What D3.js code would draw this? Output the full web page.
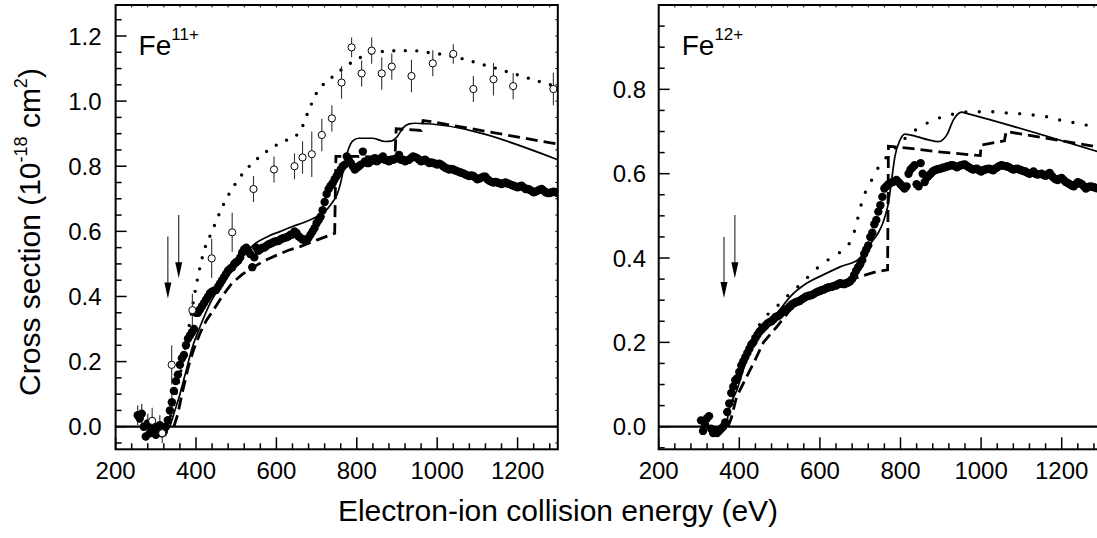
<!DOCTYPE html>
<html><head><meta charset="utf-8">
<script src="https://cdn.jsdelivr.net/npm/d3@7"></script>
<style>
html,body{margin:0;padding:0;background:#fff;}
svg{display:block;font-family:"Liberation Sans",Arial,Helvetica,sans-serif;}
</style></head>
<body>
<svg id="chart" width="1097" height="538"></svg>
<script>
// ---------------- DATA ----------------
const xTicksMajor = [200, 400, 600, 800, 1000, 1200];
const yTicksLeft = [0.0, 0.2, 0.4, 0.6, 0.8, 1.0, 1.2];
const yTicksRight = [0.0, 0.2, 0.4, 0.6, 0.8];
const panelLabels = ["11+", "12+"];

// Fe11+ present measurement (filled circles): [energy eV, cross section]
const fe11Filled = [[255,0.035],[260,0.025],[265,0.04],[270,0.0],[275,-0.03],[280,0.01],[285,-0.02],[290,-0.01],[295,0.0],[300,-0.025],[305,-0.01],[310,0.005],[315,-0.02],[320,-0.015],[325,0.0],[330,0.02],[335,0.05],[340,0.075],[345,0.11],[350,0.14],[355,0.16],[360,0.19],[365,0.21],[370,0.22],[375,0.25],[380,0.27],[385,0.28],[390,0.29],[395,0.30],[400,0.35],[405,0.35],[410,0.36],[415,0.37],[420,0.38],[425,0.39],[430,0.40],[435,0.41],[440,0.415],[445,0.418],[450,0.42],[455,0.43],[460,0.44],[465,0.45],[470,0.46],[475,0.47],[480,0.48],[485,0.485],[490,0.49],[495,0.50],[500,0.505],[505,0.51],[510,0.52],[515,0.535],[520,0.545],[525,0.55],[530,0.54],[535,0.53],[540,0.49],[545,0.52],[550,0.55],[555,0.54],[560,0.545],[565,0.55],[570,0.55],[575,0.555],[580,0.56],[585,0.562],[590,0.565],[595,0.568],[600,0.57],[605,0.57],[610,0.575],[615,0.578],[620,0.58],[625,0.582],[630,0.585],[635,0.59],[640,0.59],[645,0.60],[650,0.595],[655,0.585],[660,0.58],[665,0.575],[670,0.575],[675,0.572],[680,0.58],[685,0.59],[690,0.60],[695,0.61],[700,0.625],[705,0.635],[710,0.645],[715,0.665],[720,0.69],[725,0.715],[730,0.73],[735,0.74],[740,0.748],[745,0.76],[750,0.77],[755,0.78],[760,0.79],[765,0.80],[770,0.805],[775,0.83],[780,0.82],[785,0.81],[790,0.80],[795,0.79],[800,0.795],[805,0.80],[810,0.805],[815,0.845],[820,0.815],[825,0.81],[830,0.81],[835,0.815],[840,0.82],[845,0.825],[850,0.815],[855,0.82],[860,0.825],[865,0.83],[870,0.82],[875,0.818],[880,0.815],[885,0.82],[890,0.82],[895,0.822],[900,0.825],[905,0.835],[910,0.82],[915,0.82],[920,0.815],[925,0.818],[930,0.82],[935,0.825],[940,0.83],[945,0.828],[950,0.825],[955,0.82],[960,0.815],[965,0.818],[970,0.82],[975,0.815],[980,0.81],[985,0.812],[990,0.81],[995,0.808],[1000,0.805],[1005,0.808],[1010,0.805],[1015,0.80],[1020,0.795],[1025,0.793],[1030,0.79],[1035,0.792],[1040,0.79],[1045,0.787],[1050,0.785],[1055,0.782],[1060,0.78],[1065,0.778],[1070,0.775],[1075,0.772],[1080,0.77],[1085,0.772],[1090,0.77],[1095,0.765],[1100,0.76],[1105,0.762],[1110,0.765],[1115,0.768],[1120,0.768],[1125,0.76],[1130,0.755],[1135,0.752],[1140,0.75],[1145,0.752],[1150,0.75],[1155,0.748],[1160,0.745],[1165,0.748],[1170,0.75],[1175,0.747],[1180,0.745],[1185,0.742],[1190,0.74],[1195,0.738],[1200,0.735],[1205,0.738],[1210,0.74],[1215,0.735],[1220,0.73],[1225,0.73],[1230,0.728],[1235,0.724],[1240,0.72],[1245,0.722],[1250,0.725],[1255,0.728],[1260,0.73],[1265,0.725],[1270,0.72],[1275,0.718],[1280,0.718],[1285,0.72],[1290,0.722],[1295,0.72],[1300,0.718]];
// error bars of the filled points below threshold: [energy, value, error]
const fe11FilledErr = [[255,0.035,0.03],[265,0.04,0.03],[280,0.01,0.03],[295,0.0,0.03],[310,0.005,0.03],[325,0.0,0.03],[340,0.075,0.03]];

// Fe11+ earlier measurement (open circles): [energy, value, error]
const fe11Open = [[291,0.018,0.04],[316,-0.02,0.03],[339.5,0.19,0.06],[391,0.358,0.05],[439,0.517,0.06],[490,0.597,0.06],[543,0.73,0.04],[594,0.79,0.04],[645,0.80,0.04],[665,0.827,0.05],[688,0.837,0.07],[713,0.896,0.05],[738,0.947,0.04],[762,1.057,0.05],[787,1.165,0.03],[812,1.085,0.04],[837,1.155,0.04],[862,1.085,0.05],[887,1.106,0.04],[936,1.077,0.05],[989,1.116,0.04],[1040,1.145,0.03],[1090,1.037,0.04],[1140,1.067,0.05],[1189,1.046,0.04],[1289,1.037,0.05]];

const fe11Dotted = [[330,0],[350,0.10],[370,0.22],[390,0.36],[400,0.43],[420,0.54],[440,0.60],[460,0.66],[480,0.71],[500,0.75],[525,0.79],[550,0.82],[575,0.845],[600,0.865],[625,0.88],[645,0.89],[660,0.91],[680,0.97],[700,1.025],[720,1.055],[740,1.075],[760,1.095],[780,1.113],[800,1.128],[830,1.145],[860,1.152],[900,1.155],[940,1.155],[980,1.149],[1020,1.142],[1060,1.131],[1100,1.117],[1140,1.103],[1180,1.088],[1220,1.073],[1260,1.058],[1300,1.044]];
const fe11Solid = [[335,0],[345,0.04],[360,0.10],[375,0.17],[390,0.24],[410,0.307],[435,0.379],[460,0.43],[490,0.48],[520,0.53],[550,0.565],[580,0.585],[610,0.60],[640,0.615],[670,0.628],[700,0.645],[720,0.66],[740,0.69],[750,0.71],[760,0.75],[770,0.81],[780,0.855],[790,0.878],[805,0.886],[840,0.886],[870,0.876],[885,0.877],[900,0.89],[915,0.918],[930,0.93],[945,0.932],[1300,0.82]];
const fe11Dashed = [[345,0],[355,0.04],[365,0.10],[381,0.184],[395,0.24],[410,0.287],[425,0.325],[443,0.358],[465,0.40],[489,0.44],[515,0.468],[543,0.49],[570,0.51],[601,0.527],[630,0.542],[659,0.553],[700,0.573],[745,0.594],[748,0.83],[800,0.83],[895,0.826],[898,0.915],[960,0.91],[965,0.94],[985,0.937],[1300,0.868]];
// threshold arrows: [energy, top value, tip value]
const fe11Arrows = [[330,0.584,0.394],[357,0.65,0.456]];

// Fe12+
const fe12Filled = [[305,0.015],[310,-0.01],[315,0.005],[320,0.02],[325,0.025],[330,-0.005],[335,-0.015],[340,-0.01],[345,-0.015],[350,-0.01],[355,-0.005],[360,0.0],[365,0.01],[370,0.035],[375,0.055],[380,0.08],[385,0.095],[390,0.11],[395,0.115],[400,0.13],[405,0.145],[410,0.155],[415,0.165],[420,0.175],[425,0.185],[430,0.195],[435,0.20],[440,0.21],[445,0.218],[450,0.225],[455,0.23],[460,0.235],[465,0.24],[470,0.245],[475,0.248],[480,0.25],[485,0.255],[490,0.26],[495,0.262],[500,0.265],[505,0.27],[510,0.275],[515,0.278],[520,0.28],[525,0.285],[530,0.29],[535,0.292],[540,0.295],[545,0.297],[550,0.298],[555,0.302],[560,0.305],[565,0.308],[570,0.31],[575,0.311],[580,0.312],[585,0.315],[590,0.318],[595,0.32],[600,0.322],[605,0.324],[610,0.325],[615,0.328],[620,0.33],[625,0.331],[630,0.332],[635,0.334],[640,0.335],[645,0.338],[650,0.34],[655,0.339],[660,0.338],[665,0.34],[670,0.342],[675,0.345],[680,0.35],[685,0.36],[690,0.37],[695,0.378],[700,0.385],[705,0.395],[710,0.41],[715,0.42],[720,0.43],[725,0.45],[730,0.46],[735,0.48],[740,0.49],[745,0.51],[750,0.525],[755,0.545],[760,0.565],[765,0.57],[770,0.575],[775,0.578],[780,0.58],[785,0.582],[790,0.585],[795,0.58],[800,0.575],[805,0.57],[810,0.565],[815,0.57],[820,0.60],[825,0.61],[830,0.615],[835,0.62],[840,0.575],[845,0.57],[850,0.625],[855,0.60],[860,0.58],[865,0.59],[870,0.595],[875,0.60],[880,0.605],[885,0.608],[890,0.61],[895,0.611],[900,0.612],[905,0.614],[910,0.615],[915,0.617],[920,0.618],[925,0.62],[930,0.62],[935,0.618],[940,0.615],[945,0.618],[950,0.62],[955,0.621],[960,0.622],[965,0.618],[970,0.615],[975,0.612],[980,0.61],[985,0.611],[990,0.612],[995,0.608],[1000,0.605],[1005,0.608],[1010,0.61],[1015,0.611],[1020,0.612],[1025,0.61],[1030,0.608],[1035,0.612],[1040,0.615],[1045,0.618],[1050,0.62],[1055,0.619],[1060,0.618],[1065,0.617],[1070,0.615],[1075,0.612],[1080,0.61],[1085,0.611],[1090,0.612],[1095,0.61],[1100,0.608],[1105,0.606],[1110,0.605],[1115,0.602],[1120,0.60],[1125,0.602],[1130,0.605],[1135,0.60],[1140,0.598],[1145,0.599],[1150,0.60],[1155,0.597],[1160,0.595],[1165,0.598],[1170,0.602],[1175,0.595],[1180,0.59],[1185,0.587],[1190,0.585],[1195,0.588],[1200,0.59],[1205,0.585],[1210,0.58],[1215,0.578],[1220,0.575],[1225,0.572],[1230,0.57],[1235,0.575],[1240,0.58],[1245,0.578],[1250,0.575],[1255,0.57],[1260,0.565],[1265,0.568],[1270,0.57],[1275,0.569],[1280,0.568],[1285,0.566],[1290,0.565],[1295,0.566],[1300,0.565]];
const fe12Dotted = [[365,0],[380,0.05],[400,0.12],[420,0.18],[440,0.225],[460,0.255],[493,0.285],[526,0.316],[555,0.34],[584,0.368],[613,0.391],[646,0.411],[670,0.43],[683,0.455],[695,0.498],[708,0.545],[720,0.569],[733,0.593],[749,0.621],[766,0.64],[782,0.656],[807,0.68],[832,0.70],[857,0.715],[881,0.727],[906,0.735],[939,0.743],[980,0.747],[1022,0.747],[1064,0.744],[1097,0.742],[1130,0.739],[1163,0.735],[1196,0.727],[1229,0.721],[1262,0.715],[1300,0.709]];
const fe12Solid = [[368,0],[373,0.032],[394,0.087],[418,0.158],[443,0.206],[468,0.237],[495,0.27],[526,0.308],[567,0.34],[608,0.36],[650,0.379],[700,0.40],[715,0.42],[730,0.44],[745,0.46],[755,0.48],[762,0.50],[770,0.53],[778,0.585],[786,0.64],[799,0.68],[811,0.694],[840,0.688],[870,0.68],[894,0.676],[915,0.692],[931,0.727],[952,0.746],[964,0.743],[1300,0.649]];
const fe12Dashed = [[372,0],[380,0.02],[393,0.07],[410,0.103],[435,0.15],[460,0.20],[493,0.237],[526,0.277],[560,0.30],[600,0.32],[650,0.338],[700,0.356],[741,0.368],[768,0.372],[770,0.665],[782,0.664],[824,0.66],[890,0.652],[985,0.644],[998,0.643],[1000,0.668],[1058,0.678],[1062,0.70],[1300,0.662]];
const fe12Arrows = [[362,0.45,0.305],[389,0.502,0.352]];

// ---------------- DRAWING ----------------
const svg = d3.select("#chart");
svg.append("rect").attr("width",1097).attr("height",538).attr("fill","#fff");

const panels = [
  {left:115.6, right:557.8, top:5, bottom:449.3, ymin:-0.0694, ymax:1.2952, yTicks:yTicksLeft, labelX:101.5,
   filled:fe11Filled, filledErr:fe11FilledErr, open:fe11Open, dotted:fe11Dotted, solid:fe11Solid, dashed:fe11Dashed, arrows:fe11Arrows, lab:panelLabels[0], dotGap:11.5},
  {left:658.7, right:1102, top:5, bottom:449.3, ymin:-0.0536, ymax:1.0, yTicks:yTicksRight, labelX:646,
   filled:fe12Filled, filledErr:[], open:[], dotted:fe12Dotted, solid:fe12Solid, dashed:fe12Dashed, arrows:fe12Arrows, lab:panelLabels[1], dotGap:13.5}
];

panels.forEach((p,i)=>{
  const x = d3.scaleLinear().domain([200,1300]).range([p.left,p.right]);
  const y = d3.scaleLinear().domain([p.ymin,p.ymax]).range([p.bottom,p.top]);
  const g = svg.append("g");
  const cid = "clip"+i;
  svg.append("clipPath").attr("id",cid).append("rect")
    .attr("x",p.left).attr("y",p.top).attr("width",p.right-p.left).attr("height",p.bottom-p.top);
  const pg = g.append("g").attr("clip-path",`url(#${cid})`);

  // zero line
  pg.append("line").attr("x1",p.left).attr("x2",p.right).attr("y1",y(0)).attr("y2",y(0))
    .attr("stroke","#000").attr("stroke-width",2.2);

  // dotted
  pg.append("path").datum(p.dotted).attr("d",d3.line().x(d=>x(d[0])).y(d=>y(d[1])).curve(d3.curveMonotoneX)).attr("fill","none")
    .attr("stroke","#000").attr("stroke-width",3.4).attr("stroke-linecap","round")
    .attr("stroke-dasharray",`0 ${p.dotGap}`);
  // dashed
  pg.append("path").datum(p.dashed).attr("d",d3.line().x(d=>x(d[0])).y(d=>y(d[1])).curve(d3.curveLinear)).attr("fill","none")
    .attr("stroke","#000").attr("stroke-width",2.8).attr("stroke-dasharray","12 6");
  // solid
  pg.append("path").datum(p.solid).attr("d",d3.line().x(d=>x(d[0])).y(d=>y(d[1])).curve(d3.curveMonotoneX)).attr("fill","none")
    .attr("stroke","#000").attr("stroke-width",1.7);

  // open circle error bars
  pg.selectAll(".oerr").data(p.open).enter().append("line")
    .attr("x1",d=>x(d[0])).attr("x2",d=>x(d[0])).attr("y1",d=>y(d[1]-d[2])).attr("y2",d=>y(d[1]+d[2]))
    .attr("stroke","#333").attr("stroke-width",1.1);
  // filled error bars
  pg.selectAll(".ferr").data(p.filledErr).enter().append("line")
    .attr("x1",d=>x(d[0])).attr("x2",d=>x(d[0])).attr("y1",d=>y(d[1]-d[2])).attr("y2",d=>y(d[1]+d[2]))
    .attr("stroke","#222").attr("stroke-width",1.1);
  // filled circles
  pg.selectAll(".fc").data(p.filled).enter().append("circle")
    .attr("cx",d=>x(d[0])).attr("cy",d=>y(d[1])).attr("r",4.2).attr("fill","#000");
  // open circles
  pg.selectAll(".oc").data(p.open).enter().append("circle")
    .attr("cx",d=>x(d[0])).attr("cy",d=>y(d[1])).attr("r",3.6).attr("fill","#fff")
    .attr("stroke","#000").attr("stroke-width",1);

  // arrows
  p.arrows.forEach(a=>{
    const ax = x(a[0]), yt = y(a[1]), yb = y(a[2]);
    pg.append("line").attr("x1",ax).attr("x2",ax).attr("y1",yt).attr("y2",yb-14)
      .attr("stroke","#222").attr("stroke-width",1.1);
    pg.append("path").attr("d",`M${ax-3.5},${yb-16}L${ax+3.5},${yb-16}L${ax},${yb}Z`).attr("fill","#000");
  });

  // frame
  g.append("rect").attr("x",p.left).attr("y",p.top).attr("width",p.right-p.left).attr("height",p.bottom-p.top)
    .attr("fill","none").attr("stroke","#000").attr("stroke-width",2);

  // x ticks
  d3.range(200,1301,40).forEach(v=>{
    const isMaj = xTicksMajor.includes(v);
    g.append("line").attr("x1",x(v)).attr("x2",x(v)).attr("y1",p.bottom).attr("y2",p.bottom-(isMaj?12:6))
      .attr("stroke","#000").attr("stroke-width",1.5);
    g.append("line").attr("x1",x(v)).attr("x2",x(v)).attr("y1",p.top).attr("y2",p.top+2.5)
      .attr("stroke","#000").attr("stroke-width",1);
  });
  xTicksMajor.forEach(v=>{
    g.append("text").attr("x",x(v)).attr("y",479).attr("text-anchor","middle")
      .attr("font-size",24).attr("fill","#000").text(v);
  });
  // y ticks
  const yMinor = d3.range(Math.ceil(p.ymin/0.05)*0.05, p.ymax+1e-6, 0.05).map(v=>Math.round(v*100)/100);
  yMinor.forEach(v=>{
    const isMaj = p.yTicks.some(t=>Math.abs(t-v)<1e-6);
    g.append("line").attr("x1",p.left).attr("x2",p.left+(isMaj?11:6)).attr("y1",y(v)).attr("y2",y(v))
      .attr("stroke","#000").attr("stroke-width",1.5);
    g.append("line").attr("x1",p.right).attr("x2",p.right-2.5).attr("y1",y(v)).attr("y2",y(v))
      .attr("stroke","#000").attr("stroke-width",1);
  });
  p.yTicks.forEach(v=>{
    g.append("text").attr("x",p.labelX).attr("y",y(v)).attr("dy","0.36em").attr("text-anchor","end")
      .attr("font-size",24).attr("fill","#000").text(d3.format(".1f")(v));
  });

  // ion label
  const t = g.append("text").attr("x",p.left+23).attr("y",55).attr("font-size",28).attr("fill","#000");
  t.append("tspan").text("Fe");
  t.append("tspan").attr("font-size",17).attr("dy",-15).text(p.lab);
});

// axis titles
const yt = svg.append("text").attr("transform","translate(40,232) rotate(-90)")
  .attr("text-anchor","middle").attr("font-size",30).attr("fill","#000");
yt.append("tspan").text("Cross section (10");
yt.append("tspan").attr("font-size",18).attr("dy",-13).text("-18");
yt.append("tspan").attr("dy",13).text(" cm");
yt.append("tspan").attr("font-size",18).attr("dy",-13).text("2");
yt.append("tspan").attr("dy",13).text(")");

svg.append("text").attr("x",558).attr("y",521).attr("text-anchor","middle")
  .attr("font-size",30).attr("fill","#000").text("Electron-ion collision energy (eV)");
</script>
</body></html>
